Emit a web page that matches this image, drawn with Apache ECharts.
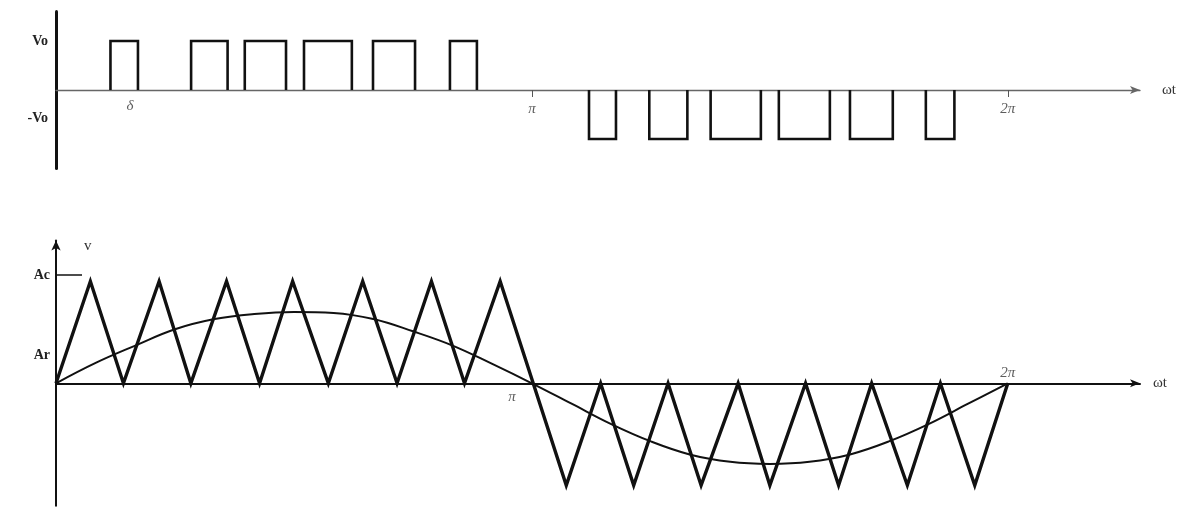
<!DOCTYPE html>
<html>
<head>
<meta charset="utf-8">
<script src="https://cdn.jsdelivr.net/npm/echarts@6/dist/echarts.min.js"></script>
<style>
  html, body { margin: 0; padding: 0; background: #ffffff; }
  #chart { width: 1203px; height: 510px; }
</style>
</head>
<body>
<div id="chart"></div>
<script>
// ---- Upper trace: PWM output pulses (angle in degrees, level in units of Vo) ----
const pulseStart = [20.6, 51.1, 71.4, 93.8, 119.9, 149.0, 201.6, 224.4, 247.6, 273.4, 300.3, 329.0];
const pulseEnd   = [31.0, 64.9, 87.0, 111.9, 135.8, 159.2, 211.8, 238.8, 266.6, 292.7, 316.5, 339.8];
const pulseLevel = [1, 1, 1, 1, 1, 1, -1, -1, -1, -1, -1, -1];

const topXLabelValues = [28, 180, 360];
const topXLabelText   = ['δ', 'π', '2π'];
const topXTickValues  = [180, 360];
const topYLabelValues = [1, -0.58];
const topYLabelText   = ['Vo', '-Vo'];

// ---- Lower trace: triangular carrier and sinusoidal reference (units of Ac) ----
const carrierX = [0, 13, 25.5, 39, 51, 64.5, 77, 89.5, 103, 116, 129, 142, 154.5, 168,
                  193, 206, 218.5, 231.5, 244, 258, 270, 283.5, 296, 308.5, 322, 334.5, 347.5, 360];
const carrierY = [0, 1, 0, 1, 0, 1, 0, 1, 0, 1, 0, 1, 0, 1,
                  -1, 0, -1, 0, -1, 0, -1, 0, -1, 0, -1, 0, -1, 0];

const refX = [0, 15, 30, 45, 60, 75, 90, 105, 120, 135, 150, 165, 180,
              195, 210, 225, 240, 255, 270, 285, 300, 315, 330, 345, 360];
const refY = [0, 0.2, 0.37, 0.53, 0.63, 0.68, 0.70, 0.69, 0.63, 0.51, 0.37, 0.19, 0,
              -0.2, -0.4, -0.57, -0.7, -0.77, -0.79, -0.77, -0.7, -0.57, -0.4, -0.2, 0];

const botXLabelValues = [180, 360];
const botXLabelText   = ['π', '2π'];
const botYLabelValues = [1.06, 0.27];
const botYLabelText   = ['Ac', 'Ar'];
const botYTickValues  = [1.06];

const serif = 'Liberation Serif';
const ink = '#111';

function pick(values, texts) {
  return function (v) {
    for (let i = 0; i < values.length; i++) {
      if (Math.abs(values[i] - v) < 1e-6) return texts[i];
    }
    return '';
  };
}

// one open-bottom rectangle per pulse
const pulseSeries = pulseStart.map(function (s, i) {
  const e = pulseEnd[i], h = pulseLevel[i];
  return {
    type: 'line',
    xAxisIndex: 0, yAxisIndex: 0,
    data: [[s, 0], [s, h], [e, h], [e, 0]],
    symbol: 'none',
    lineStyle: { color: ink, width: 2.6, join: 'miter' },
    silent: true
  };
});

const chart = echarts.init(document.getElementById('chart'), null, { renderer: 'canvas' });

chart.setOption({
  backgroundColor: '#ffffff',
  animation: false,
  grid: [
    { left: 56, right: 63, top: 11.6, height: 156.8 },
    { left: 56, right: 63, top: 240.5, height: 265.2 }
  ],
  xAxis: [
    {
      type: 'value', gridIndex: 0, min: 0, max: 410,
      splitLine: { show: false },
      axisLine: {
        onZero: true,
        lineStyle: { color: '#666', width: 1.3 },
        symbol: ['none', 'arrow'], symbolSize: [6, 10]
      },
      axisTick: { show: true, customValues: topXTickValues, length: 7, lineStyle: { color: '#555', width: 1 } },
      axisLabel: { show: false },
      name: 'ωt', nameLocation: 'end', nameGap: 22,
      nameTextStyle: { fontFamily: serif, fontSize: 15, color: '#333' }
    },
    {
      type: 'value', gridIndex: 1, min: 0, max: 410,
      splitLine: { show: false },
      axisLine: {
        onZero: true,
        lineStyle: { color: ink, width: 2 },
        symbol: ['none', 'arrow'], symbolSize: [6, 10]
      },
      axisTick: { show: false },
      axisLabel: { show: false },
      name: 'ωt', nameLocation: 'end', nameGap: 13,
      nameTextStyle: { fontFamily: serif, fontSize: 15, color: '#333' }
    }
  ],
  yAxis: [
    {
      type: 'value', gridIndex: 0, min: -1.6, max: 1.6,
      splitLine: { show: false },
      axisLine: { show: true, onZero: false, lineStyle: { color: ink, width: 3 } },
      axisTick: { show: false },
      axisLabel: {
        customValues: topYLabelValues,
        formatter: pick(topYLabelValues, topYLabelText),
        margin: 8,
        fontFamily: serif, fontSize: 14, fontWeight: 'bold', color: '#222'
      }
    },
    {
      type: 'value', gridIndex: 1, min: -1.2, max: 1.4,
      splitLine: { show: false },
      axisLine: {
        show: true, onZero: false,
        lineStyle: { color: ink, width: 2 },
        symbol: ['none', 'arrow'], symbolSize: [7, 10]
      },
      axisTick: {
        show: true, customValues: botYTickValues, inside: true, length: 26,
        lineStyle: { color: ink, width: 1.5 }
      },
      axisLabel: {
        customValues: botYLabelValues,
        formatter: pick(botYLabelValues, botYLabelText),
        margin: 6,
        fontFamily: serif, fontSize: 14, fontWeight: 'bold', color: '#222'
      },
      name: 'v', nameLocation: 'end', nameGap: -6,
      nameTextStyle: {
        fontFamily: serif, fontSize: 15, color: '#333',
        align: 'left', verticalAlign: 'middle', padding: [0, 0, 0, 28]
      }
    }
  ],
  series: pulseSeries.concat([
    {
      name: 'upper angle labels',
      type: 'scatter', xAxisIndex: 0, yAxisIndex: 0,
      symbolSize: 0,
      silent: true,
      data: topXLabelValues.map(function (x, i) {
        return {
          value: [x, 0],
          label: {
            show: true,
            formatter: topXLabelText[i],
            position: 'bottom',
            distance: i === 0 ? 9 : 12,
            fontFamily: serif, fontSize: 15, fontStyle: 'italic', color: '#333'
          }
        };
      })
    },
    {
      name: 'carrier',
      type: 'line', xAxisIndex: 1, yAxisIndex: 1,
      data: carrierX.map(function (x, i) { return [x, carrierY[i]]; }),
      symbol: 'none',
      lineStyle: { color: ink, width: 3.4, join: 'miter' },
      silent: true
    },
    {
      name: 'reference',
      type: 'line', xAxisIndex: 1, yAxisIndex: 1,
      data: refX.map(function (x, i) { return [x, refY[i]]; }),
      symbol: 'none', smooth: 0.4,
      lineStyle: { color: ink, width: 2 },
      silent: true
    },
    {
      name: 'lower angle labels',
      type: 'scatter', xAxisIndex: 1, yAxisIndex: 1,
      symbolSize: 0,
      silent: true,
      data: botXLabelValues.map(function (x, i) {
        return {
          value: [x, 0],
          label: {
            show: true,
            formatter: botXLabelText[i],
            position: i === 0 ? 'bottom' : 'top',
            distance: i === 0 ? 6 : 3,
            offset: i === 0 ? [-20, 0] : [0, 0],
            fontFamily: serif, fontSize: 15, fontStyle: 'italic', color: '#333'
          }
        };
      })
    }
  ])
});
</script>
</body>
</html>
